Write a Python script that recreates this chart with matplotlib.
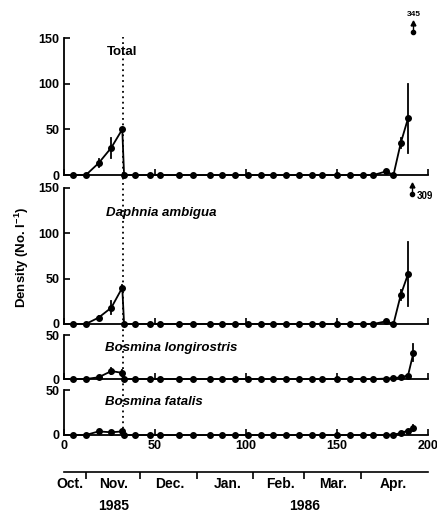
import numpy as np
import matplotlib
matplotlib.use('Agg')
import matplotlib.pyplot as plt
from matplotlib.transforms import blended_transform_factory
from matplotlib.lines import Line2D

plt.rcParams.update({
    'font.family': 'Liberation Sans',
    'font.weight': 'bold',
    'mathtext.fontset': 'custom',
    'mathtext.bf': 'Liberation Sans:bold',
    'mathtext.rm': 'Liberation Sans:bold',
})

# sampling days (day 0 = 19 Oct 1985)
days = [5, 12, 19, 26, 32, 33, 39, 47, 53, 63, 71, 80, 87, 94, 101, 108,
        115, 122, 129, 136, 142, 150, 157, 164, 170, 177, 181, 185, 189, 192]

total = [0, 0, 13, 30, 50, 0, 0, 0, 0, 0, 0, 0, 0, 0, 0, 0,
         0, 0, 0, 0, 0, 0, 0, 0, 0, 4, 0, 35, 62, 345]
total_err = {19: 4, 26: 11, 185: 5, 189: 38}

daphnia = [0, 0, 7, 18, 40, 0, 0, 0, 0, 0, 0, 0, 0, 0, 0, 0,
           0, 0, 0, 0, 0, 0, 0, 0, 0, 3, 0, 32, 55, 309]
daphnia_err = {19: 2, 26: 7, 32: 3, 185: 6, 189: 35}

longirostris = [0, 0, 2, 9, 7, 0, 0, 0, 0, 0, 0, 0, 0, 0, 0, 0,
                0, 0, 0, 0, 0, 0, 0, 0, 0, 0.5, 1, 2, 4, 30]
longirostris_err = {26: 3, 32: 3, 192: 10}

fatalis = [0, 0, 4, 3, 4, 0, 0, 0, 0, 0, 0, 0, 0, 0, 0, 0,
           0, 0, 0, 0, 0, 0, 0, 0, 0, 0, 0.5, 2, 5, 8]
fatalis_err = {19: 2, 192: 3}

month_edges = [12, 42, 73, 104, 132, 163]
month_names = ['Oct.', 'Nov.', 'Dec.', 'Jan.', 'Feb.', 'Mar.', 'Apr.']
month_centres = [3, 27, 58, 90, 119, 148, 181]
years = ['1985', '1986']
year_centres = [27, 132]

panels = [
    # values, errors, ymax, yticks, label, italic, rect
    (total, total_err, 150, [0, 50, 100, 150], 'Total', False,
     [0.1465, 0.6595, 0.833, 0.2665]),
    (daphnia, daphnia_err, 150, [0, 50, 100, 150], 'Daphnia ambigua', True,
     [0.1465, 0.3697, 0.833, 0.2646]),
    (longirostris, longirostris_err, 50, [0, 50], 'Bosmina longirostris', True,
     [0.1465, 0.2626, 0.833, 0.0856]),
    (fatalis, fatalis_err, 50, [0, 50], 'Bosmina fatalis', True,
     [0.1465, 0.1537, 0.833, 0.0875]),
]
label_pos = [(32, 0.90), (23, 0.815), (22.5, 0.70), (22.5, 0.73)]


def offscale_arrow(ax, x, y0, y1):
    # dot with a short upward arrow for values beyond the axis
    ax.plot([x, x], [y0, y1], color='black', lw=1, clip_on=False)
    ax.plot(x, y0, 'o', color='black', ms=3, clip_on=False)
    ax.plot(x, y1, '^', color='black', ms=3.5, clip_on=False)


fig = plt.figure(figsize=(4.37, 5.14), dpi=100)
axes = []
for i, (vals, errs, ymax, yt, name, ital, rect) in enumerate(panels):
    ax = fig.add_axes(rect)
    axes.append(ax)
    d = np.array(days, dtype=float)
    v = np.array(vals, dtype=float)
    on = v <= ymax
    ax.plot(d[on], v[on], color='black', lw=1.3, marker='o', ms=4,
            clip_on=False, zorder=3)
    for day, e in errs.items():
        y = v[days.index(day)]
        if y <= ymax:
            ax.plot([day, day], [max(y - e, 0), y + e], color='black', lw=1.3,
                    clip_on=False)
    for day, y in zip(d[~on], v[~on]):
        if i == 0:
            offscale_arrow(ax, day, 157, 167)
            ax.text(day, 172, '%d' % y, ha='center', va='bottom', fontsize=6)
        else:
            offscale_arrow(ax, day - 1, 143, 153)
            ax.text(day + 2, 141, '%d' % y, ha='left', va='center', fontsize=7)

    ax.set_xlim(0, 200)
    ax.set_ylim(0, ymax)
    ax.spines['top'].set_visible(False)
    ax.spines['right'].set_visible(False)
    for s in ('left', 'bottom'):
        ax.spines[s].set_linewidth(1.3)
    ax.set_yticks(yt)
    ax.set_xticks([0, 50, 100, 150, 200])
    ax.tick_params(direction='in', length=4, width=1.2, labelsize=9)
    if i < 3:
        ax.tick_params(axis='x', labelbottom=False)
    lx, ly = label_pos[i]
    ax.text(lx, ymax * ly, name, fontsize=9.5, fontweight='bold',
            style='italic' if ital else 'normal',
            ha='left' if ital else 'center', va='center')

# dotted marker line through all panels
tr = blended_transform_factory(axes[0].transData, fig.transFigure)
fig.add_artist(Line2D([32.5, 32.5], [0.155, 0.928], transform=tr,
                      color='black', lw=1.3, linestyle=(0, (1, 2))))

fig.text(0.05, 0.50, r'Density (No. l$^{\mathbf{-1}}$)', rotation=90,
         ha='center', va='center', fontsize=9.5)

# calendar scale below the day axis
axm = fig.add_axes([0.1465, 0.0, 0.833, 0.0817])
axm.set_xlim(0, 200)
axm.set_ylim(0, 1)
for s in ('left', 'right', 'bottom'):
    axm.spines[s].set_visible(False)
axm.spines['top'].set_linewidth(1.2)
axm.set_yticks([])
axm.xaxis.set_ticks_position('top')
axm.set_xticks(month_edges)
axm.tick_params(axis='x', direction='in', length=5, width=1.2, labeltop=False)
for name, x in zip(month_names, month_centres):
    axm.text(x, 0.72, name, ha='center', va='center', fontsize=10)
for name, x in zip(years, year_centres):
    axm.text(x, 0.2, name, ha='center', va='center', fontsize=10)

fig.savefig('out.png', dpi=100)
